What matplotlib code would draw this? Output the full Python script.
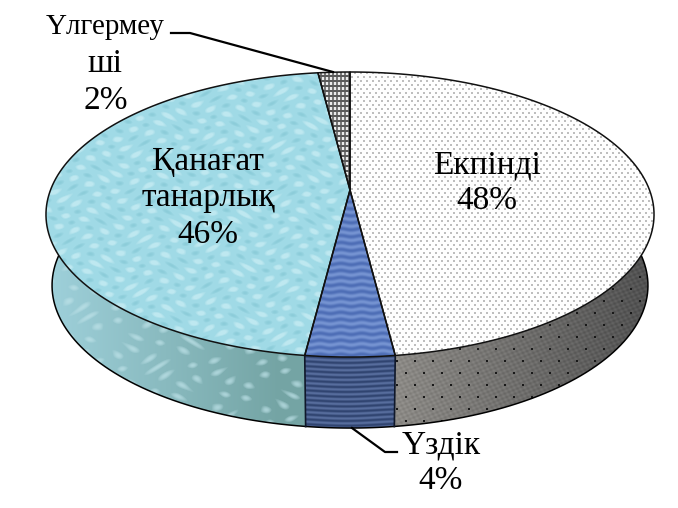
import numpy as np
import matplotlib
matplotlib.use("Agg")
import matplotlib.pyplot as plt
from matplotlib.patches import Polygon

labels = ["Екпінді", "Үздік", "Қанағат\nтанарлық", "Үлгермеу", "ші"]
values = [48, 4, 46, 2]

W, H = 678, 508
# pie geometry in pixels
cx, cy = 350, 190
A, B, k = 299.5, 138.3, 0.172
depth = 71
side_scale = 0.98

plt.rcParams["font.family"] = ["Liberation Serif", "DejaVu Serif"]

fig = plt.figure(figsize=(W / 100, H / 100), dpi=100)
ax = fig.add_axes([0, 0, 1, 1])
ax.set_xlim(0, W)
ax.set_ylim(H, 0)
ax.axis("off")

yy, xx = np.mgrid[0:H, 0:W].astype(float)


def project(theta, lower=False):
    # theta clockwise from the top, circle seen in perspective
    X, Y = np.sin(theta), np.cos(theta)
    w = 1 + k * Y
    px = A * X / w
    py = -B * Y / w
    if lower:
        return cx + px * side_scale, cy + py + depth
    return cx + px, cy + py


def mix(c1, c2, t):
    t = np.clip(t, 0, 1)[..., None]
    return (1 - t) * np.array(c1, float) + t * np.array(c2, float)


def tex_white():
    img = np.full((H, W, 3), 254.0)
    dots = ((xx + 3 * (yy // 4 % 2)) % 6 < 1.5) & (yy % 4 < 1.5)
    img[dots] = (190, 190, 190)
    return img


def tex_blue():
    t = 0.5 + 0.5 * np.sin(yy * 0.9 + 0.6 * np.sin(xx * 0.3))
    return mix((78, 110, 182), (118, 148, 210), t)


def tex_water():
    n = np.sin(xx * 0.21 + 1.5 * np.sin(yy * 0.13)) * np.sin(yy * 0.36 + 1.5 * np.sin(xx * 0.09))
    img = mix((160, 218, 230), (190, 232, 240), (n - 0.3) * 2)
    return mix(img, (138, 203, 216), (-n - 0.55) * 2)


def tex_grid():
    img = np.full((H, W, 3), 235.0)
    img[yy % 5 < 2] = (90, 90, 90)
    img[(xx % 4 < 1.3) & (yy % 5 >= 2)] = (120, 120, 120)
    return img


def tex_side_grey():
    n = np.sin(xx * 0.9 + yy * 0.4) * np.sin(yy * 1.1 - xx * 0.3)
    base = mix((140, 138, 134), (82, 82, 82), (xx - 395) / 250)
    img = base + 10 * n[..., None]
    img[((xx + 9 * (yy // 12 % 2)) % 18 < 2) & (yy % 12 < 2)] = (25, 25, 25)
    return img


def tex_side_blue():
    t = 0.5 + 0.5 * np.sin(yy * 1.3 + 1.5 * np.sin(xx * 0.05))
    return mix((48, 68, 112), (88, 110, 158), t)


def tex_side_water():
    n = np.sin(xx * 0.19 + 2 * np.sin(yy * 0.12)) * np.sin(yy * 0.27 + 1.5 * np.sin(xx * 0.08))
    base = mix((158, 208, 218), (116, 164, 164), (xx - 50) / 230)
    return mix(base, (190, 226, 232), (n - 0.4) * 1.2)


def tex_side_dark():
    return np.full((H, W, 3), 110.0)


top_tex = [tex_white(), tex_blue(), tex_water(), tex_grid()]
side_tex = [tex_side_grey(), tex_side_blue(), tex_side_water(), tex_side_dark()]


def fill_poly(pts, img, z):
    poly = Polygon(pts, closed=True, facecolor="none", edgecolor="none", transform=ax.transData)
    ax.add_patch(poly)
    im = ax.imshow(np.clip(img, 0, 255).astype(np.uint8), extent=(0, W, H, 0), interpolation="bilinear", aspect="auto", zorder=z)
    im.set_clip_path(poly)


edges = np.cumsum([0] + values) / sum(values) * 2 * np.pi

# sides first, the top face covers what is behind
for i in range(len(values)):
    th = np.linspace(edges[i], edges[i + 1], 120)
    x1, y1 = project(th)
    x2, y2 = project(th, lower=True)
    pts = np.r_[np.c_[x1, y1], np.c_[x2, y2][::-1]]
    fill_poly(pts, side_tex[i], 1)
    ax.plot(x2, y2, color="black", lw=1.1, zorder=2)

# front edges between slices
for a in edges[1:3]:
    x1, y1 = project(a)
    x2, y2 = project(a, lower=True)
    ax.plot([x1, x2], [y1, y2], color="#10182a", lw=1.2, zorder=2)

for i in range(len(values)):
    th = np.linspace(edges[i], edges[i + 1], 120)
    x1, y1 = project(th)
    pts = np.r_[[[cx, cy]], np.c_[x1, y1]]
    fill_poly(pts, top_tex[i], 3)

for i in range(len(values)):
    th = np.linspace(edges[i], edges[i + 1], 120)
    x1, y1 = project(th)
    ax.plot(np.r_[cx, x1, cx], np.r_[cy, y1, cy], color="#111111", lw=1.1, zorder=4)

ax.set_xlim(0, W)
ax.set_ylim(H, 0)

# leader lines
ax.plot([171, 190, 333], [33, 33, 72], color="black", lw=1.6, zorder=5)
ax.plot([352, 385, 397], [428, 452, 452], color="black", lw=1.6, zorder=5)

fs = 24
sp = 1.25
pct = ["%d%%" % v for v in values]
ax.text(487, 183, labels[0] + "\n" + pct[0], fontsize=fs, ha="center", va="center", linespacing=sp, zorder=6)
ax.text(441, 463, labels[1] + "\n" + pct[1], fontsize=fs, ha="center", va="center", linespacing=sp, zorder=6)
ax.text(208, 198, labels[2] + "\n" + pct[2], fontsize=fs, ha="center", va="center", linespacing=sp, zorder=6)
ax.text(105, 27, labels[3], fontsize=21, ha="center", va="center", zorder=6)
ax.text(105, 64, labels[4], fontsize=fs, ha="center", va="center", zorder=6)
ax.text(106, 101, pct[3], fontsize=fs, ha="center", va="center", zorder=6)

fig.savefig("out.png", dpi=100)
